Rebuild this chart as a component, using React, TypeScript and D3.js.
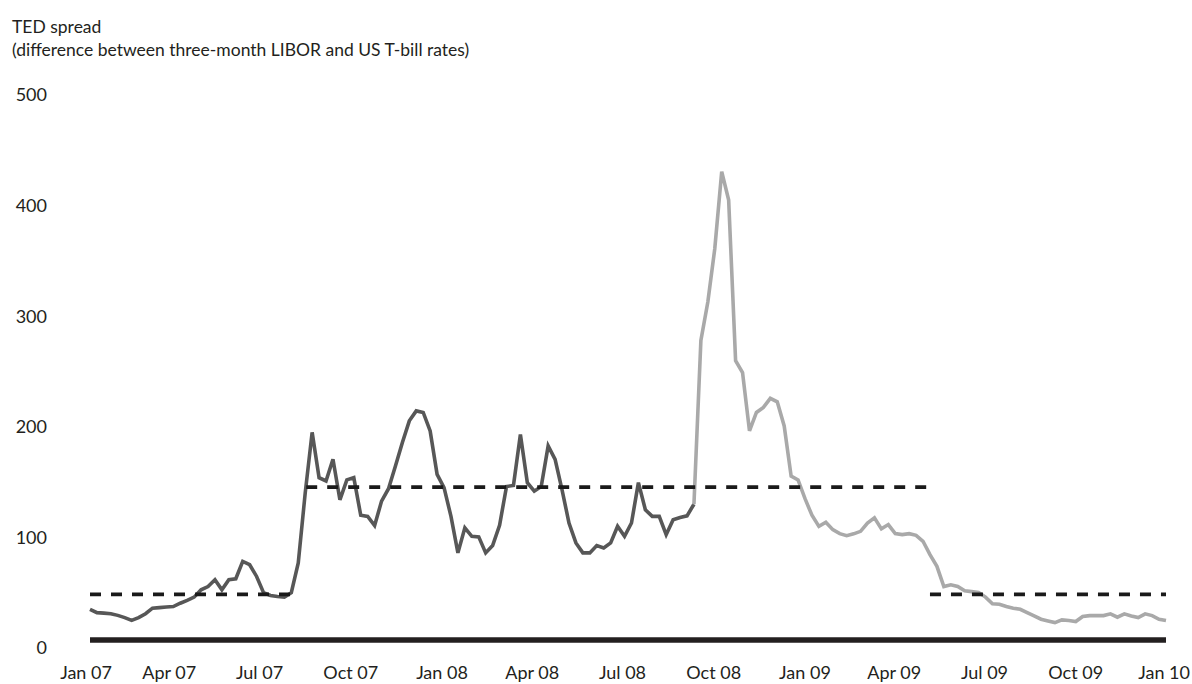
import React, { useEffect } from "react";
import * as d3 from "d3";

// Weekly TED spread (basis points), first observation 2007-01-05
const startDate = "2007-01-05";
const tedValues: number[] = [
  35, 32, 31.5, 31, 29.5, 27.5, 25, 27.5, 31, 36,
  36.5, 37, 37.5, 40.5, 43, 46, 52.6, 55.6, 61.7, 52.6,
  61.7, 62.6, 78.3, 75.3, 64.7, 50, 47.5, 46.5, 46, 50,
  77, 140, 195, 154, 151, 170.6, 134, 152, 154, 120,
  119, 110.7, 132.8, 144, 164.5, 185.8, 205.4, 214.4, 213, 196.3,
  157, 145, 119, 86, 108.6, 101, 100.5, 86, 92.6, 111,
  146, 147, 193, 149.5, 141.8, 146, 182.7, 170.6, 143, 113,
  95, 86, 86, 92.6, 90.5, 95, 110, 101, 113, 149.5,
  125, 119, 119, 102.5, 116, 118, 119.5, 130, 278, 312.8,
  361, 430.7, 405, 259.8, 249, 196.3, 213, 217.5, 225.7, 222.6,
  200.8, 155.4, 152, 135, 120, 110, 113.7, 107, 103.4, 101.6,
  103.2, 105.5, 113, 117.7, 107.7, 111.6, 103.4, 102.5, 103.4, 101.9,
  96.5, 84.4, 73.8, 55.6, 57.2, 55.6, 51.7, 51, 50.2, 46,
  40, 39.6, 37.5, 36, 35, 32, 29, 26, 24.5, 23,
  25.4, 24.8, 23.9, 28.4, 29.3, 29.3, 29.3, 30.9, 27.9, 30.9,
  29, 27.5, 30.9, 29.3, 26, 24.8,
];
// index of the week where the line turns light grey
const splitIndex = 87;

// period averages (dashed)
const avgStarts = ["2007-01-05", "2007-08-11", "2009-05-01"];
const avgEnds = ["2007-07-29", "2009-04-28", "2009-12-25"];
const avgValues = [48.5, 145.5, 48.5];

const yTicks = [0, 100, 200, 300, 400, 500];
const xTickDates = [
  "2007-01-01", "2007-04-01", "2007-07-01", "2007-10-01",
  "2008-01-01", "2008-04-01", "2008-07-01", "2008-10-01",
  "2009-01-01", "2009-04-01", "2009-07-01", "2009-10-01", "2010-01-01",
];
const xTickLabels = [
  "Jan 07", "Apr 07", "Jul 07", "Oct 07", "Jan 08", "Apr 08", "Jul 08",
  "Oct 08", "Jan 09", "Apr 09", "Jul 09", "Oct 09", "Jan 10",
];

const titleLines = [
  "TED spread",
  "(difference between three-month LIBOR and US T-bill rates)",
];

const W = 1192;
const H = 684;
const FONT = "Lato, 'Noto Sans', sans-serif";

export default function App() {
  useEffect(() => {
    document.body.style.margin = "0";
  }, []);

  const parse = d3.timeParse("%Y-%m-%d");
  const d0 = parse(startDate) as Date;
  const dates = tedValues.map((_, i) => d3.timeDay.offset(d0, i * 7));
  const data = tedValues.map((v, i) => ({ date: dates[i], value: v }));

  const x = d3
    .scaleTime()
    .domain([dates[0], dates[dates.length - 1]])
    .range([90, 1166]);
  const y = d3.scaleLinear().domain([0, 500]).range([648, 95]);

  const line = d3
    .line<{ date: Date; value: number }>()
    .x((d) => x(d.date))
    .y((d) => y(d.value));

  const darkPath = line(data.slice(0, splitIndex + 1)) || "";
  const lightPath = line(data.slice(splitIndex)) || "";

  return (
    <svg width={W} height={H} style={{ display: "block" }} fontFamily={FONT}>
      <rect width={W} height={H} fill="#ffffff" />
      {titleLines.map((t, i) => (
        <text key={i} x={12} y={33 + i * 22.5} fontSize={17.5} fill="#231f20">
          {t}
        </text>
      ))}
      {yTicks.map((t) => (
        <text
          key={t}
          x={47}
          y={y(t)}
          dy="0.36em"
          textAnchor="end"
          fontSize={18}
          fill="#231f20"
        >
          {t}
        </text>
      ))}
      {xTickDates.map((ds, i) => {
        const last = i === xTickDates.length - 1;
        const px = x(parse(ds) as Date);
        return (
          <text
            key={ds}
            x={last ? W - 2 : i === 0 ? px : px - 6}
            y={679}
            textAnchor={last ? "end" : "middle"}
            fontSize={18}
            fill="#231f20"
          >
            {xTickLabels[i]}
          </text>
        );
      })}
      {/* baseline */}
      <line
        x1={x(dates[0])}
        x2={x(dates[dates.length - 1])}
        y1={y(0) - 8}
        y2={y(0) - 8}
        stroke="#231f20"
        strokeWidth={5.5}
      />
      <path d={darkPath} fill="none" stroke="#575757" strokeWidth={3.6} strokeLinejoin="miter" />
      <path d={lightPath} fill="none" stroke="#a9a9a9" strokeWidth={3.6} strokeLinejoin="miter" />
      {avgValues.map((v, i) => (
        <line
          key={i}
          x1={x(parse(avgStarts[i]) as Date)}
          x2={x(parse(avgEnds[i]) as Date)}
          y1={y(v)}
          y2={y(v)}
          stroke="#1a1a1a"
          strokeWidth={3.6}
          strokeDasharray="11,10"
        />
      ))}
    </svg>
  );
}
